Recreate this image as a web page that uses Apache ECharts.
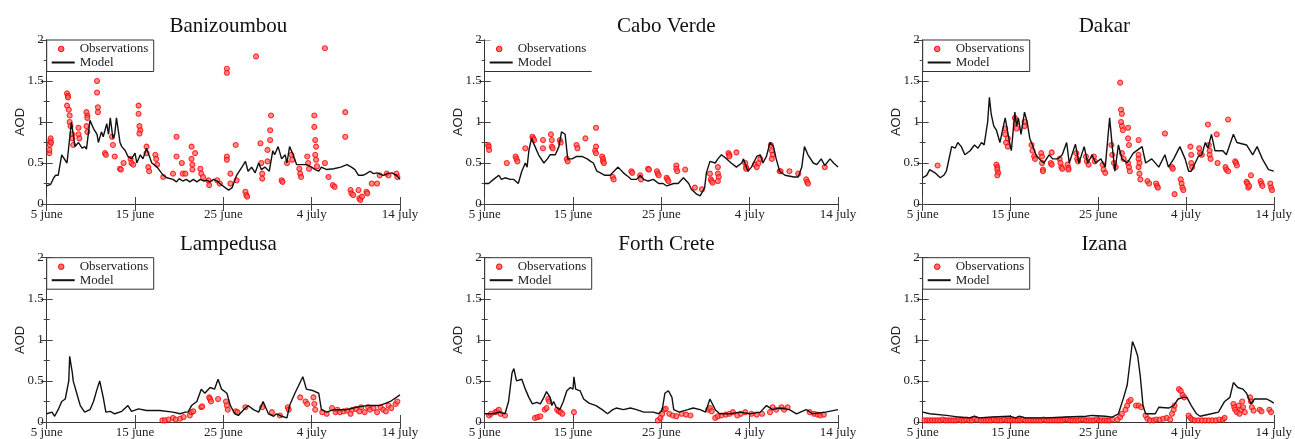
<!DOCTYPE html>
<html><head><meta charset="utf-8">
<script src="https://cdn.jsdelivr.net/npm/echarts@6/dist/echarts.min.js"></script>
<style>html,body{margin:0;padding:0;background:#fff}#c{width:1295px;height:439px}</style>
</head><body><div id="c"></div>
<script>
// ---------- data ----------
const stations = ['Banizoumbou','Cabo Verde','Dakar','Lampedusa','Forth Crete','Izana'];
const xTickLabels = ['5 june','15 june','25 june','4 july','14 july']; // every 10 days
const yTickValues = [0, 0.5, 1, 1.5, 2];
const legendNames = ['Observations', 'Model'];

// x = days since 5 june, y = AOD
const banModel = [[0,0.22],[0.45,0.24],[0.8,0.32],[1.0,0.35],[1.3,0.35],[1.7,0.6],[1.9,0.62],[2.3,0.5],[2.8,1.0],[3.2,0.7],[3.6,0.75],[4.0,0.68],[4.3,0.7],[4.5,0.67],[4.9,1.02],[5.3,0.92],[5.7,0.85],[5.85,0.75],[6.2,0.88],[6.4,0.82],[6.8,0.98],[7.0,0.85],[7.2,1.05],[7.5,0.8],[7.7,0.85],[7.9,1.05],[8.3,0.75],[8.5,0.7],[8.9,0.65],[9.2,0.58],[9.6,0.55],[10.0,0.62],[10.2,0.5],[10.6,0.6],[10.9,0.55],[11.3,0.68],[11.9,0.5],[12.5,0.45],[13.2,0.35],[13.6,0.32],[14.3,0.3],[14.7,0.27],[15.0,0.31],[15.4,0.28],[15.8,0.3],[16.2,0.27],[16.6,0.3],[17.0,0.27],[17.4,0.3],[17.8,0.28],[18.1,0.29],[18.5,0.27],[18.9,0.3],[19.3,0.28],[19.6,0.25],[20.2,0.2],[20.6,0.17],[21.0,0.2],[21.5,0.35],[22.1,0.45],[22.5,0.52],[22.8,0.4],[23.2,0.45],[23.6,0.38],[24.0,0.5],[24.3,0.42],[24.7,0.45],[25.2,0.4],[25.6,0.65],[25.8,0.6],[26.2,0.7],[26.6,0.55],[27.0,0.6],[27.2,0.5],[27.5,0.7],[27.9,0.6],[28.3,0.48],[28.9,0.48],[29.4,0.48],[30.0,0.45],[30.4,0.42],[30.8,0.4],[31.1,0.45],[31.7,0.42],[32.5,0.43],[33.3,0.45],[34.0,0.48],[34.5,0.45],[34.9,0.42],[35.3,0.35],[35.8,0.35],[36.2,0.37],[36.6,0.4],[37.0,0.37],[37.4,0.38],[38.1,0.35],[38.6,0.37],[39.1,0.38],[39.6,0.35],[40,0.3]];
const banObs = [[0.3,0.62],[0.3,0.66],[0.35,0.72],[0.4,0.77],[0.45,0.8],[0.5,0.75],[2.3,1.35],[2.4,1.32],[2.4,1.3],[2.3,1.2],[2.5,1.15],[2.6,1.08],[2.6,1.0],[2.7,0.95],[2.9,0.85],[2.9,0.8],[3.0,0.72],[3.6,0.93],[3.6,0.85],[3.7,0.8],[4.5,1.12],[4.6,1.08],[4.6,1.05],[4.5,0.95],[4.6,0.88],[5.7,1.5],[5.7,1.36],[5.8,1.18],[5.8,1.12],[6.6,0.62],[6.7,0.6],[7.4,0.82],[7.5,0.72],[7.7,0.58],[8.3,0.43],[8.4,0.42],[8.7,0.5],[9.5,0.55],[9.6,0.5],[9.8,0.48],[10.4,1.2],[10.4,1.1],[10.5,0.95],[10.6,0.9],[10.5,0.86],[11.3,0.7],[11.3,0.62],[11.5,0.45],[11.6,0.4],[12.3,0.6],[12.4,0.55],[12.5,0.48],[13.2,0.33],[14.3,0.37],[14.7,0.82],[14.7,0.58],[15.3,0.5],[15.4,0.37],[15.7,0.37],[16.4,0.7],[16.4,0.55],[16.5,0.48],[16.5,0.42],[16.8,0.62],[17.4,0.43],[17.5,0.37],[17.7,0.33],[18.3,0.29],[18.4,0.23],[19.3,0.29],[19.6,0.25],[20.4,1.65],[20.4,1.6],[20.4,0.58],[20.4,0.54],[20.8,0.37],[20.8,0.25],[21.4,0.72],[21.5,0.29],[22.5,0.15],[22.6,0.11],[22.7,0.09],[23.7,1.8],[24.2,0.74],[24.3,0.5],[24.4,0.37],[24.4,0.31],[25.0,0.66],[25.0,0.52],[25.4,1.08],[25.3,0.9],[25.3,0.78],[26.6,0.29],[26.7,0.27],[27.2,0.5],[27.7,0.6],[27.8,0.54],[28.6,0.43],[28.7,0.37],[28.8,0.33],[29.5,0.58],[29.6,0.5],[29.7,0.43],[30.3,1.08],[30.3,0.94],[30.4,0.78],[30.5,0.7],[30.4,0.6],[30.5,0.54],[30.6,0.46],[31.5,1.9],[31.5,0.5],[31.9,0.33],[32.4,0.23],[32.6,0.21],[33.8,1.12],[33.8,0.82],[34.4,0.17],[34.5,0.13],[34.7,0.11],[35.3,0.17],[35.4,0.07],[35.5,0.05],[35.7,0.09],[36.2,0.15],[36.3,0.13],[36.8,0.25],[37.4,0.25],[37.7,0.35],[38.5,0.37],[38.7,0.35],[39.6,0.37],[39.7,0.33]];

const cvModel = [[0,0.25],[0.45,0.25],[1.0,0.3],[1.6,0.35],[1.9,0.3],[2.3,0.32],[2.9,0.3],[3.3,0.3],[3.8,0.25],[4.2,0.4],[4.6,0.5],[4.8,0.45],[5.0,0.65],[5.3,0.8],[5.7,0.7],[6.1,0.6],[6.7,0.5],[7.1,0.55],[7.4,0.6],[8.0,0.6],[8.4,0.7],[8.7,0.88],[8.9,0.9],[9.1,0.85],[9.4,0.55],[9.9,0.55],[10.4,0.58],[11.0,0.58],[11.6,0.55],[12.0,0.52],[12.3,0.5],[12.7,0.4],[13.1,0.38],[13.6,0.35],[14.2,0.35],[15.1,0.45],[15.7,0.38],[16.3,0.33],[16.6,0.3],[17.2,0.3],[17.6,0.35],[18.0,0.3],[18.5,0.28],[19.1,0.3],[19.7,0.25],[20.2,0.25],[20.6,0.22],[21.4,0.25],[21.9,0.25],[22.5,0.32],[23.1,0.25],[23.4,0.18],[24.0,0.12],[24.4,0.1],[24.9,0.2],[25.1,0.38],[25.5,0.52],[26.1,0.5],[26.4,0.55],[26.8,0.6],[27.4,0.55],[27.9,0.5],[28.5,0.45],[29.1,0.5],[29.3,0.55],[29.8,0.4],[30.2,0.45],[30.8,0.58],[31.2,0.6],[31.5,0.5],[31.9,0.58],[32.3,0.75],[32.7,0.7],[33.0,0.55],[33.4,0.4],[34.0,0.35],[35.0,0.33],[35.5,0.33],[35.9,0.45],[36.2,0.7],[36.6,0.6],[37.2,0.5],[37.6,0.48],[38.1,0.55],[38.5,0.47],[39.1,0.55],[39.5,0.5],[40,0.45]];
const cvObs = [[0.4,0.72],[0.45,0.7],[0.5,0.66],[2.5,0.5],[3.5,0.58],[3.6,0.55],[3.7,0.52],[4.6,0.68],[5.4,0.82],[5.5,0.8],[5.6,0.78],[6.6,0.78],[6.6,0.68],[7.5,0.85],[7.6,0.78],[7.6,0.7],[7.7,0.68],[8.5,0.78],[8.6,0.75],[9.3,0.55],[9.4,0.52],[10.4,0.72],[10.5,0.68],[11.4,0.8],[12.6,0.93],[12.6,0.7],[12.5,0.65],[12.6,0.62],[13.3,0.58],[13.4,0.55],[13.4,0.52],[13.5,0.5],[14.5,0.33],[14.6,0.3],[16.6,0.4],[16.7,0.38],[17.6,0.35],[17.7,0.3],[18.5,0.43],[18.6,0.42],[19.5,0.4],[19.6,0.37],[19.7,0.35],[20.6,0.32],[20.7,0.3],[20.8,0.28],[21.7,0.47],[21.7,0.43],[21.8,0.4],[22.7,0.42],[23.8,0.2],[24.6,0.18],[25.5,0.37],[25.6,0.3],[25.7,0.28],[25.8,0.26],[26.4,0.45],[26.4,0.37],[26.5,0.33],[26.4,0.28],[27.6,0.62],[27.7,0.6],[27.7,0.58],[28.5,0.63],[29.5,0.5],[29.6,0.45],[29.6,0.43],[30.6,0.48],[30.8,0.45],[31.0,0.5],[31.2,0.55],[32.4,0.72],[32.5,0.65],[32.6,0.6],[32.5,0.55],[33.4,0.4],[33.5,0.4],[34.5,0.4],[35.5,0.37],[36.4,0.3],[36.5,0.27],[36.6,0.25],[38.5,0.45]];

const dakModel = [[0,0.32],[0.45,0.35],[0.8,0.42],[1.4,0.38],[2.0,0.32],[2.4,0.35],[2.7,0.4],[2.9,0.5],[3.3,0.7],[3.7,0.68],[4.0,0.75],[4.4,0.7],[4.8,0.6],[5.4,0.65],[5.9,0.72],[6.3,0.68],[6.7,0.75],[7.0,0.72],[7.4,1.0],[7.6,1.3],[7.8,1.1],[8.1,0.95],[8.4,0.9],[8.8,0.75],[9.4,1.05],[9.9,0.75],[10.1,0.65],[10.5,1.12],[10.7,0.95],[10.9,1.05],[11.2,0.85],[11.6,1.12],[11.9,1.0],[12.2,0.8],[12.5,0.72],[12.9,0.6],[13.3,0.55],[13.8,0.5],[14.4,0.6],[14.8,0.55],[15.4,0.55],[15.9,0.6],[16.4,0.75],[16.7,0.5],[17.4,0.73],[17.8,0.5],[18.4,0.7],[18.8,0.5],[19.3,0.6],[19.7,0.5],[20.3,0.55],[20.8,0.45],[21.3,1.05],[21.6,0.7],[21.9,0.4],[22.3,0.72],[22.7,0.55],[23.3,0.5],[24.0,0.62],[25.0,0.7],[25.4,0.5],[26.1,0.55],[26.9,0.45],[27.6,0.6],[28.0,0.45],[28.6,0.55],[29.3,0.7],[29.9,0.55],[30.3,0.4],[30.6,0.4],[31.4,0.58],[31.8,0.6],[32.2,0.75],[32.5,0.68],[32.9,0.85],[33.3,0.65],[34.2,0.65],[34.6,0.6],[35.4,0.85],[35.8,0.75],[36.9,0.72],[37.6,0.6],[38.1,0.7],[38.7,0.55],[39.4,0.42],[40,0.4]];
const dakObs = [[1.7,0.47],[8.4,0.48],[8.5,0.45],[8.5,0.42],[8.6,0.38],[8.5,0.35],[9.4,0.92],[9.4,0.85],[9.5,0.75],[9.7,0.8],[9.7,0.7],[10.5,1.05],[10.6,0.98],[10.7,0.92],[11.6,1.0],[11.6,0.95],[12.4,0.72],[12.5,0.65],[12.7,0.58],[12.8,0.55],[13.5,0.62],[13.6,0.58],[13.6,0.5],[13.7,0.42],[13.7,0.4],[14.6,0.5],[14.7,0.48],[14.7,0.63],[15.6,0.55],[15.7,0.5],[15.8,0.45],[15.9,0.43],[16.5,0.48],[16.6,0.44],[16.6,0.42],[17.5,0.62],[17.6,0.55],[17.7,0.52],[18.6,0.58],[18.7,0.52],[18.9,0.48],[19.5,0.58],[19.6,0.52],[20.5,0.48],[20.6,0.42],[20.8,0.38],[21.5,0.72],[21.6,0.6],[21.8,0.5],[22.0,0.45],[22.5,1.48],[22.6,1.15],[22.7,1.1],[22.6,1.0],[22.7,0.95],[22.8,0.9],[22.7,0.62],[22.9,0.55],[23.4,0.93],[23.4,0.8],[23.5,0.72],[23.4,0.5],[23.5,0.45],[23.6,0.4],[24.6,0.78],[24.6,0.6],[24.6,0.55],[24.7,0.5],[24.6,0.45],[24.7,0.37],[24.8,0.3],[25.6,0.28],[25.8,0.25],[26.6,0.25],[26.7,0.22],[26.8,0.2],[27.6,0.86],[28.4,0.45],[28.5,0.43],[28.7,0.12],[29.4,0.3],[29.5,0.25],[29.6,0.2],[29.7,0.17],[30.5,0.7],[30.6,0.6],[30.6,0.5],[30.7,0.45],[31.5,0.68],[31.6,0.62],[31.8,0.6],[32.5,0.97],[32.6,0.72],[32.7,0.65],[32.7,0.6],[32.8,0.55],[33.5,0.85],[33.6,0.5],[34.5,0.45],[34.6,0.42],[34.8,0.4],[34.8,1.03],[35.6,0.52],[35.7,0.5],[35.8,0.47],[36.9,0.27],[37.0,0.25],[37.1,0.2],[37.2,0.22],[37.4,0.35],[38.5,0.28],[38.6,0.25],[38.7,0.22],[39.6,0.25],[39.7,0.2],[39.8,0.17]];

const lamModel = [[0,0.1],[0.6,0.12],[0.9,0.07],[1.3,0.15],[1.7,0.25],[2.1,0.28],[2.3,0.27],[2.5,0.5],[2.6,0.8],[2.9,0.6],[3.0,0.5],[3.4,0.35],[3.8,0.2],[4.3,0.12],[4.9,0.15],[5.3,0.25],[5.7,0.4],[6.0,0.5],[6.4,0.3],[6.7,0.12],[7.2,0.13],[7.7,0.1],[8.5,0.13],[9.2,0.2],[9.6,0.13],[10.4,0.16],[11.3,0.14],[12.8,0.14],[14.3,0.12],[15.1,0.1],[15.7,0.12],[16.0,0.12],[16.4,0.2],[17.0,0.25],[17.5,0.4],[17.9,0.35],[18.5,0.42],[19.0,0.4],[19.4,0.52],[19.8,0.4],[20.4,0.35],[20.8,0.2],[21.3,0.1],[21.7,0.08],[22.3,0.15],[22.8,0.2],[23.4,0.15],[24.0,0.12],[24.5,0.25],[25.1,0.1],[25.7,0.07],[26.0,0.1],[26.6,0.07],[27.2,0.05],[27.5,0.2],[28.1,0.35],[29.0,0.55],[29.4,0.4],[30.2,0.38],[30.8,0.35],[31.1,0.15],[31.7,0.12],[32.5,0.15],[34.0,0.15],[35.1,0.18],[36.2,0.2],[37.7,0.2],[38.9,0.25],[40,0.33]];
const lamObs = [[13.1,0.02],[13.4,0.02],[13.8,0.03],[14.3,0.05],[14.6,0.03],[15.1,0.04],[15.5,0.06],[16.2,0.08],[16.4,0.12],[16.6,0.13],[17.5,0.18],[17.6,0.19],[18.4,0.3],[18.5,0.28],[18.6,0.25],[19.4,0.28],[20.3,0.25],[20.4,0.2],[20.5,0.15],[21.4,0.13],[21.6,0.12],[22.5,0.18],[24.4,0.18],[25.5,0.12],[26.4,0.08],[27.3,0.18],[27.4,0.15],[28.7,0.3],[29.3,0.25],[29.5,0.22],[30.2,0.3],[30.3,0.22],[30.4,0.15],[31.2,0.12],[31.7,0.1],[32.3,0.17],[32.7,0.12],[32.9,0.15],[33.2,0.12],[33.6,0.13],[34.0,0.14],[34.4,0.1],[34.6,0.15],[35.0,0.16],[35.4,0.13],[35.6,0.18],[36.0,0.12],[36.4,0.18],[36.6,0.15],[37.0,0.17],[37.4,0.12],[37.8,0.18],[38.1,0.15],[38.4,0.13],[38.7,0.2],[39.0,0.17],[39.5,0.22],[39.7,0.25]];

const fcModel = [[0,0.1],[1.0,0.1],[1.6,0.12],[2.3,0.1],[2.7,0.25],[3.1,0.6],[3.3,0.65],[3.6,0.5],[3.8,0.48],[4.2,0.52],[4.6,0.4],[5.0,0.3],[5.4,0.22],[5.9,0.24],[6.3,0.22],[6.7,0.3],[7.0,0.37],[7.4,0.3],[7.6,0.2],[7.8,0.25],[8.1,0.18],[8.5,0.15],[8.9,0.25],[9.3,0.38],[9.7,0.42],[10.0,0.4],[10.1,0.55],[10.3,0.4],[10.8,0.38],[11.2,0.28],[11.8,0.23],[12.6,0.2],[13.3,0.15],[13.9,0.1],[14.5,0.15],[14.9,0.17],[15.7,0.15],[16.5,0.17],[17.2,0.15],[18.0,0.12],[19.1,0.12],[19.7,0.1],[20.1,0.15],[20.4,0.35],[20.8,0.38],[21.2,0.3],[21.4,0.15],[22.0,0.12],[23.0,0.15],[23.6,0.17],[24.4,0.15],[25.0,0.12],[25.5,0.28],[25.7,0.28],[26.1,0.15],[26.6,0.1],[27.8,0.1],[28.9,0.12],[30.0,0.1],[31.2,0.12],[31.9,0.2],[32.6,0.15],[33.4,0.17],[34.5,0.15],[35.3,0.1],[36.4,0.15],[37.1,0.1],[38.6,0.12],[40,0.15]];
const fcObs = [[0.5,0.08],[0.7,0.1],[1.2,0.12],[1.4,0.13],[1.6,0.15],[1.8,0.1],[2.3,0.08],[5.7,0.05],[6.0,0.06],[6.3,0.07],[6.8,0.15],[7.0,0.17],[7.2,0.28],[7.3,0.25],[8.2,0.15],[8.4,0.13],[8.6,0.12],[8.8,0.1],[10.1,0.12],[19.6,0.02],[19.9,0.05],[20.1,0.1],[20.3,0.15],[20.5,0.16],[20.9,0.1],[21.3,0.08],[21.7,0.07],[22.3,0.1],[22.8,0.09],[23.3,0.08],[25.3,0.15],[25.5,0.17],[25.7,0.13],[26.1,0.05],[26.4,0.07],[26.8,0.08],[27.3,0.09],[27.7,0.1],[28.1,0.12],[28.6,0.08],[29.0,0.1],[29.5,0.12],[30.2,0.1],[30.8,0.09],[31.4,0.1],[32.3,0.12],[32.6,0.18],[33.0,0.15],[33.6,0.18],[33.9,0.15],[34.3,0.18],[36.8,0.12],[37.3,0.1],[37.7,0.09],[38.0,0.08],[38.4,0.09]];

const izModel = [[0,0.12],[0.8,0.1],[2.7,0.08],[4.2,0.06],[5.3,0.05],[5.9,0.07],[6.4,0.05],[7.9,0.06],[9.9,0.07],[10.6,0.05],[11.0,0.07],[11.7,0.05],[14.0,0.05],[16.3,0.06],[18.6,0.07],[19.3,0.08],[20.8,0.07],[21.6,0.06],[22.3,0.1],[22.9,0.3],[23.3,0.45],[23.7,0.8],[23.9,0.98],[24.2,0.9],[24.5,0.8],[24.8,0.55],[25.1,0.2],[25.4,0.1],[26.1,0.1],[26.5,0.1],[26.9,0.18],[28.0,0.17],[28.6,0.2],[29.1,0.28],[29.7,0.3],[30.1,0.3],[30.6,0.2],[31.2,0.1],[31.6,0.07],[32.9,0.1],[33.7,0.12],[34.4,0.25],[35.0,0.3],[35.4,0.48],[35.9,0.42],[36.5,0.4],[36.9,0.35],[37.4,0.22],[37.8,0.28],[39.2,0.28],[39.7,0.25],[40,0.23]];
const izObs = [[0.2,0.02],[0.5,0.02],[0.8,0.02],[1.1,0.02],[1.4,0.02],[1.7,0.02],[2.0,0.02],[2.3,0.03],[2.6,0.02],[2.9,0.02],[3.2,0.02],[3.5,0.02],[3.8,0.02],[4.1,0.03],[4.4,0.02],[4.7,0.02],[5.0,0.03],[5.3,0.02],[5.6,0.02],[5.9,0.04],[6.2,0.03],[6.6,0.02],[6.9,0.02],[7.2,0.02],[7.5,0.02],[7.8,0.02],[8.1,0.03],[8.4,0.02],[8.7,0.02],[9.0,0.02],[9.3,0.03],[9.6,0.02],[9.9,0.02],[10.2,0.02],[10.5,0.02],[10.8,0.02],[11.1,0.02],[11.4,0.03],[11.7,0.02],[12.0,0.02],[12.3,0.02],[12.6,0.02],[12.9,0.02],[13.2,0.02],[13.5,0.02],[13.8,0.03],[14.1,0.02],[14.4,0.02],[14.7,0.02],[15.0,0.02],[15.3,0.02],[15.6,0.02],[15.9,0.02],[16.2,0.03],[16.5,0.03],[16.8,0.02],[17.1,0.02],[17.4,0.02],[17.7,0.02],[18.0,0.03],[18.3,0.03],[18.6,0.02],[18.9,0.02],[19.2,0.02],[19.5,0.02],[19.8,0.03],[20.1,0.02],[20.4,0.02],[20.7,0.02],[21.0,0.02],[21.3,0.02],[21.6,0.03],[22.2,0.03],[22.5,0.06],[22.7,0.1],[23.1,0.15],[23.3,0.2],[23.5,0.25],[23.7,0.27],[24.3,0.2],[24.6,0.2],[24.9,0.18],[25.4,0.08],[25.6,0.04],[25.9,0.02],[26.3,0.02],[26.6,0.03],[27.0,0.03],[27.4,0.04],[27.8,0.05],[28.2,0.03],[28.4,0.1],[28.6,0.15],[28.7,0.2],[29.2,0.4],[29.4,0.38],[29.6,0.33],[29.8,0.3],[30.3,0.08],[30.5,0.05],[30.7,0.03],[31.0,0.02],[31.4,0.02],[31.8,0.02],[32.2,0.02],[32.6,0.02],[33.0,0.02],[33.4,0.02],[33.8,0.03],[34.2,0.03],[34.4,0.05],[35.4,0.22],[35.5,0.18],[35.6,0.15],[35.8,0.12],[36.0,0.2],[36.1,0.1],[36.3,0.15],[36.4,0.25],[36.5,0.18],[36.7,0.12],[37.3,0.3],[37.4,0.25],[37.5,0.18],[37.7,0.14],[38.4,0.15],[38.6,0.13],[39.5,0.15],[39.7,0.12]];

const models = [banModel, cvModel, dakModel, lamModel, fcModel, izModel];
const observations = [banObs, cvObs, dakObs, lamObs, fcObs, izObs];

// ---------- layout ----------
const colLeft = [46.7, 484.7, 922.7];
const plotW = 353.3;
const rowTop = [40, 257.7];
const rowH = [164, 165.6];
const titleTop = [11, 229];

const serif = 'Liberation Serif';
const frame = {show: true, lineStyle: {color: '#333', width: 1}};
const obsStyle = {color: 'rgba(255,95,95,0.9)', borderColor: 'rgba(255,0,0,0.95)', borderWidth: 1.1};

const option = {animation: false, backgroundColor: '#fff', grid: [], xAxis: [], yAxis: [], series: [], title: [], graphic: []};

stations.forEach((name, i) => {
  const c = i % 3, r = Math.floor(i / 3);
  const L = colLeft[c], T = rowTop[r];
  option.grid.push({left: L, top: T, width: plotW, height: rowH[r], containLabel: false});
  const xBase = {gridIndex: i, type: 'value', min: 0, max: 40, interval: 10,
    axisLine: frame, splitLine: {show: false},
    axisTick: {inside: true, length: 7, lineStyle: {color: '#444'}}};
  option.xAxis.push(Object.assign({}, xBase, {position: 'bottom',
    axisLabel: {formatter: v => xTickLabels[Math.round(v / 10)], fontFamily: serif, fontSize: 13, color: '#222', margin: 4}}));
  option.xAxis.push(Object.assign({}, xBase, {position: 'top', axisLabel: {show: false}}));
  const yBase = {gridIndex: i, type: 'value', min: yTickValues[0], max: yTickValues[yTickValues.length - 1], interval: 0.5,
    axisLine: frame, splitLine: {show: false},
    axisTick: {inside: true, length: 6, lineStyle: {color: '#444'}},
    minorTick: {show: true, splitNumber: 2, length: 3, lineStyle: {color: '#444'}}};
  option.yAxis.push(Object.assign({}, yBase, {position: 'left',
    axisLabel: {fontFamily: serif, fontSize: 13, color: '#222', margin: 3},
    name: 'AOD', nameLocation: 'middle', nameGap: 20, nameRotate: 90, nameMoveOverlap: false,
    nameTextStyle: {fontFamily: 'Liberation Sans', fontSize: 13, color: '#222'}}));
  option.yAxis.push(Object.assign({}, yBase, {position: 'right', axisLabel: {show: false}}));

  option.series.push({type: 'scatter', name: legendNames[0], xAxisIndex: 2 * i, yAxisIndex: 2 * i,
    data: observations[i], symbol: 'circle', symbolSize: 5, z: 2, itemStyle: obsStyle});
  option.series.push({type: 'line', name: legendNames[1], xAxisIndex: 2 * i, yAxisIndex: 2 * i,
    data: models[i], symbol: 'none', showSymbol: false, z: 3, color: '#111',
    lineStyle: {color: '#111', width: 1.4}});

  option.title.push({text: name, left: L + plotW / 2, top: titleTop[r], textAlign: 'center',
    textStyle: {fontFamily: serif, fontSize: 21, fontWeight: 'normal', color: '#111'}});

  // legend box (drawn as graphics, anchored to the plot corner)
  const bw = 107, bh = 31.5;
  if (i === 1) {
    // Cabo Verde: box drawn with only a bottom edge
    option.graphic.push({type: 'rect', z: 100, shape: {x: L + 0.5, y: T + 0.5, width: bw, height: bh - 0.5}, style: {fill: '#fff', stroke: null}});
    option.graphic.push({type: 'line', z: 101, shape: {x1: L, y1: T + bh, x2: L + bw, y2: T + bh}, style: {stroke: '#333', lineWidth: 1}});
  } else {
    option.graphic.push({type: 'rect', z: 100, shape: {x: L, y: T, width: bw, height: bh}, style: {fill: '#fff', stroke: '#333', lineWidth: 1}});
  }
  option.graphic.push({type: 'circle', z: 102, shape: {cx: L + 14.5, cy: T + 9, r: 2.8}, style: {fill: obsStyle.color, stroke: obsStyle.borderColor, lineWidth: 1}});
  option.graphic.push({type: 'line', z: 102, shape: {x1: L + 5, y1: T + 22.5, x2: L + 28, y2: T + 22.5}, style: {stroke: '#111', lineWidth: 2}});
  option.graphic.push({type: 'text', z: 102, x: L + 33, y: T + 9, style: {text: legendNames[0], fill: '#222', font: '13px "Liberation Serif"', verticalAlign: 'middle', align: 'left'}});
  option.graphic.push({type: 'text', z: 102, x: L + 33, y: T + 22.5, style: {text: legendNames[1], fill: '#222', font: '13px "Liberation Serif"', verticalAlign: 'middle', align: 'left'}});
});

const chart = echarts.init(document.getElementById('c'), null, {renderer: 'canvas'});
chart.setOption(option);
</script>
</body></html>
